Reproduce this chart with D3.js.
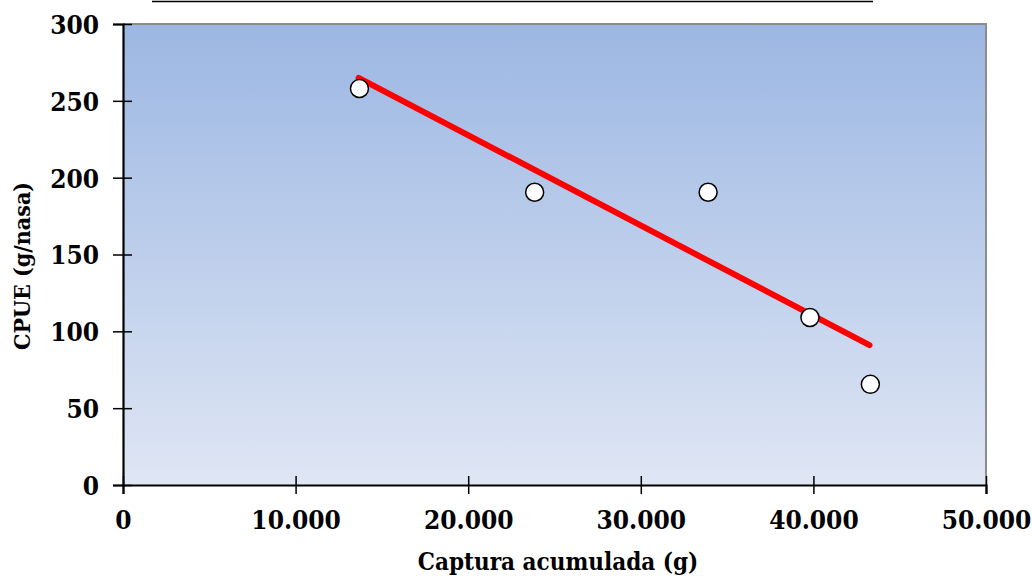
<!DOCTYPE html>
<html>
<head>
<meta charset="utf-8">
<script src="https://cdn.jsdelivr.net/npm/d3@7"></script>
<style>
  body { margin: 0; background: #fff; }
  svg text { font-family: "DejaVu Serif", serif; font-stretch: condensed; font-weight: bold; fill: #000; }
</style>
</head>
<body>
<div id="chart"></div>
<script>
// data
var capturaAcum = [13700, 23850, 33900, 39800, 43300];
var cpue = [258, 190.5, 190.5, 109, 65.5];
// trend line ends
var trendX = [13650, 43250];
var trendY = [265, 91];
var xTicks = [0, 10000, 20000, 30000, 40000, 50000];
var yTicks = [0, 50, 100, 150, 200, 250, 300];

var svgWidth = 1032;
var svgHeight = 578;
var margin = { top: 24, right: 46, bottom: 93, left: 123 };
var width = svgWidth - margin.left - margin.right;
var height = svgHeight - margin.top - margin.bottom;

var svg = d3.select("#chart").append("svg").attr("width", svgWidth).attr("height", svgHeight);

// line cut at the top of the image
svg.append("line").attr("x1", 152).attr("x2", 873).attr("y1", 1.5).attr("y2", 1.5)
  .attr("stroke", "#000").attr("stroke-width", 1.5);

var grad = svg.append("defs").append("linearGradient").attr("id", "bg")
  .attr("x1", 0).attr("y1", 0).attr("x2", 0).attr("y2", 1);
grad.append("stop").attr("offset", "0%").attr("stop-color", "#9cb7e3");
grad.append("stop").attr("offset", "100%").attr("stop-color", "#dfe6f4");

var chartGroup = svg.append("g").attr("transform", `translate(${margin.left}, ${margin.top})`);

var x = d3.scaleLinear().domain([0, 50000]).range([0, width]);
var y = d3.scaleLinear().domain([0, 300]).range([height, 0]);

chartGroup.append("rect").attr("width", width).attr("height", height).attr("fill", "url(#bg)");
// top and right border
chartGroup.append("path").attr("d", `M0,0H${width}V${height}`)
  .attr("fill", "none").attr("stroke", "#8c8c8c").attr("stroke-width", 2);

var fmt = function(d) { return d3.format(",")(d).replace(/,/g, "."); };

var bottomAxis = d3.axisBottom(x).tickValues(xTicks).tickFormat(fmt).tickSizeOuter(0).tickSize(9).tickPadding(17);
var leftAxis = d3.axisLeft(y).tickValues(yTicks).tickSizeOuter(0).tickSize(10).tickPadding(14);

var gx = chartGroup.append("g").attr("transform", `translate(0, ${height})`).call(bottomAxis);
var gy = chartGroup.append("g").call(leftAxis);

[gx, gy].forEach(function(g) {
  g.select(".domain").attr("stroke", "#000").attr("stroke-width", 2.2);
  g.selectAll(".tick line").attr("stroke", "#000").attr("stroke-width", 1.5);
  g.selectAll(".tick text").style("font-size", "26px");
});
// ticks cross the axis
gx.selectAll(".tick line").attr("y1", -9);
gy.selectAll(".tick line").attr("x1", 9);
gx.selectAll(".tick text").attr("dy", "0.71em");
gy.selectAll(".tick text").attr("dy", "0.36em");

chartGroup.append("line")
  .attr("x1", x(trendX[0])).attr("y1", y(trendY[0]))
  .attr("x2", x(trendX[1])).attr("y2", y(trendY[1]))
  .attr("stroke", "#ff0000").attr("stroke-width", 6).attr("stroke-linecap", "round");

chartGroup.selectAll(".pt").data(capturaAcum).enter().append("circle").attr("class", "pt")
  .attr("cx", function(d) { return x(d); })
  .attr("cy", function(d, i) { return y(cpue[i]); })
  .attr("r", 9).attr("fill", "#fff").attr("stroke", "#000").attr("stroke-width", 1.5);

svg.append("text").attr("x", 558).attr("y", 570).attr("text-anchor", "middle")
  .style("font-size", "24px").text("Captura acumulada (g)");

svg.append("text").attr("transform", "translate(30, 266) rotate(-90)").attr("text-anchor", "middle")
  .style("font-size", "23px").text("CPUE (g/nasa)");
</script>
</body>
</html>
